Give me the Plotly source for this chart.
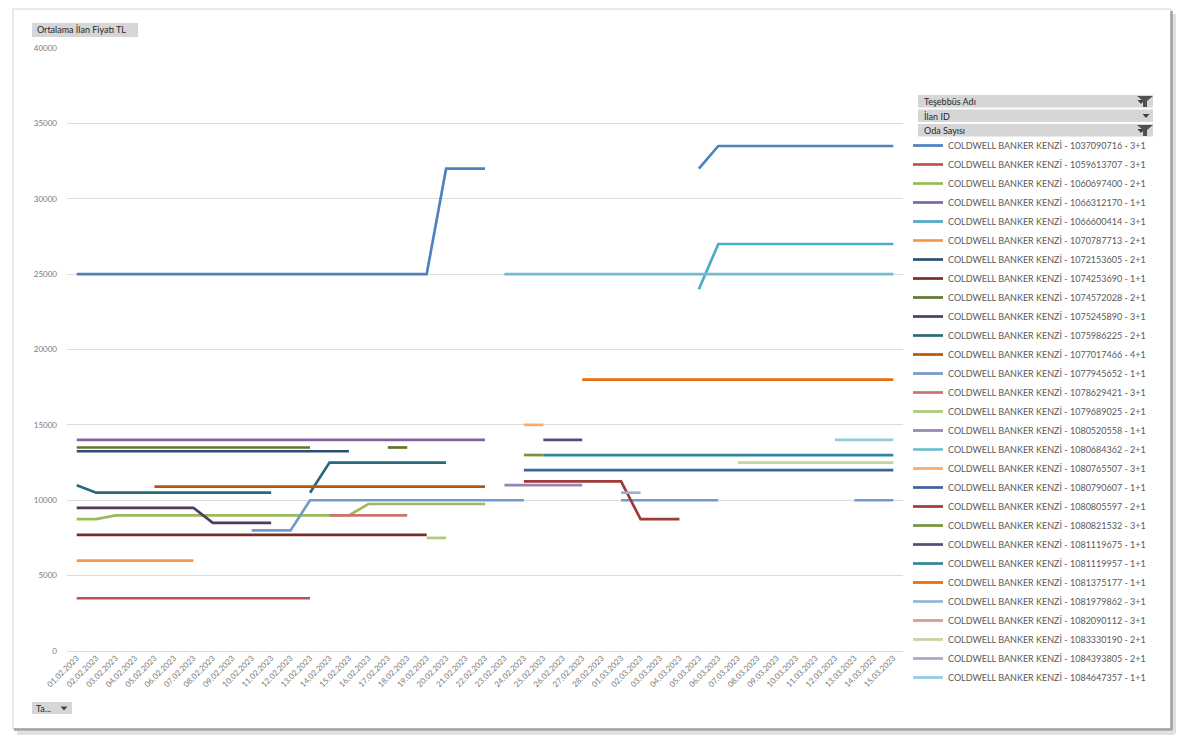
import plotly.graph_objects as go

N = None

dates = [
    "01.02.2023", "02.02.2023", "03.02.2023", "04.02.2023", "05.02.2023", "06.02.2023", "07.02.2023",
    "08.02.2023", "09.02.2023", "10.02.2023", "11.02.2023", "12.02.2023", "13.02.2023", "14.02.2023",
    "15.02.2023", "16.02.2023", "17.02.2023", "18.02.2023", "19.02.2023", "20.02.2023", "21.02.2023",
    "22.02.2023", "23.02.2023", "24.02.2023", "25.02.2023", "26.02.2023", "27.02.2023", "28.02.2023",
    "01.03.2023", "02.03.2023", "03.03.2023", "04.03.2023", "05.03.2023", "06.03.2023", "07.03.2023",
    "08.03.2023", "09.03.2023", "10.03.2023", "11.03.2023", "12.03.2023", "13.03.2023", "14.03.2023",
    "15.03.2023",
]

y_ticks = [0, 5000, 10000, 15000, 20000, 25000, 30000, 35000, 40000]

# one list per listing: 28 February values, then 15 March values
s_1037090716 = [25000, 25000, 25000, 25000, 25000, 25000, 25000, 25000, 25000, 25000, 25000, 25000, 25000, 25000,
                25000, 25000, 25000, 25000, 25000, 32000, 32000, 32000, N, N, N, N, N, N,
                N, N, N, N, 32000, 33500, 33500, 33500, 33500, 33500, 33500, 33500, 33500, 33500, 33500]
s_1059613707 = [3500, 3500, 3500, 3500, 3500, 3500, 3500, 3500, 3500, 3500, 3500, 3500, 3500, N,
                N, N, N, N, N, N, N, N, N, N, N, N, N, N,
                N, N, N, N, N, N, N, N, N, N, N, N, N, N, N]
s_1060697400 = [8750, 8750, 9000, 9000, 9000, 9000, 9000, 9000, 9000, 9000, 9000, 9000, 9000, 9000,
                9000, 9750, 9750, 9750, 9750, 9750, 9750, 9750, N, N, N, N, N, N,
                N, N, N, N, N, N, N, N, N, N, N, N, N, N, N]
s_1066312170 = [14000, 14000, 14000, 14000, 14000, 14000, 14000, 14000, 14000, 14000, 14000, 14000, 14000, 14000,
                14000, 14000, 14000, 14000, 14000, 14000, 14000, 14000, N, N, N, N, N, N,
                N, N, N, N, N, N, N, N, N, N, N, N, N, N, N]
s_1066600414 = [N, N, N, N, N, N, N, N, N, N, N, N, N, N,
                N, N, N, N, N, N, N, N, N, N, N, N, N, N,
                N, N, N, N, 24000, 27000, 27000, 27000, 27000, 27000, 27000, 27000, 27000, 27000, 27000]
s_1070787713 = [6000, 6000, 6000, 6000, 6000, 6000, 6000, N, N, N, N, N, N, N,
                N, N, N, N, N, N, N, N, N, N, N, N, N, N,
                N, N, N, N, N, N, N, N, N, N, N, N, N, N, N]
s_1072153605 = [13250, 13250, 13250, 13250, 13250, 13250, 13250, 13250, 13250, 13250, 13250, 13250, 13250, 13250,
                13250, N, N, N, N, N, N, N, N, N, N, N, N, N,
                N, N, N, N, N, N, N, N, N, N, N, N, N, N, N]
s_1074253690 = [7700, 7700, 7700, 7700, 7700, 7700, 7700, 7700, 7700, 7700, 7700, 7700, 7700, 7700,
                7700, 7700, 7700, 7700, 7700, N, N, N, N, N, N, N, N, N,
                N, N, N, N, N, N, N, N, N, N, N, N, N, N, N]
s_1074572028 = [13500, 13500, 13500, 13500, 13500, 13500, 13500, 13500, 13500, 13500, 13500, 13500, 13500, N,
                N, N, 13500, 13500, N, N, N, N, N, N, N, N, N, N,
                N, N, N, N, N, N, N, N, N, N, N, N, N, N, N]
s_1075245890 = [9500, 9500, 9500, 9500, 9500, 9500, 9500, 8500, 8500, 8500, 8500, N, N, N,
                N, N, N, N, N, N, N, N, N, N, N, N, N, N,
                N, N, N, N, N, N, N, N, N, N, N, N, N, N, N]
s_1075986225 = [11000, 10500, 10500, 10500, 10500, 10500, 10500, 10500, 10500, 10500, 10500, N, 10500, 12500,
                12500, 12500, 12500, 12500, 12500, 12500, N, N, N, N, N, N, N, N,
                N, N, N, N, N, N, N, N, N, N, N, N, N, N, N]
s_1077017466 = [N, N, N, N, 10900, 10900, 10900, 10900, 10900, 10900, 10900, 10900, 10900, 10900,
                10900, 10900, 10900, 10900, 10900, 10900, 10900, 10900, N, N, N, N, N, N,
                N, N, N, N, N, N, N, N, N, N, N, N, N, N, N]
s_1077945652 = [N, N, N, N, N, N, N, N, N, 8000, 8000, 8000, 10000, 10000,
                10000, 10000, 10000, 10000, 10000, 10000, 10000, 10000, 10000, 10000, N, N, N, N,
                10000, 10000, 10000, 10000, 10000, 10000, N, N, N, N, N, N, 10000, 10000, 10000]
s_1078629421 = [N, N, N, N, N, N, N, N, N, N, N, N, N, 9000,
                9000, 9000, 9000, 9000, N, N, N, N, N, N, N, N, N, N,
                N, N, N, N, N, N, N, N, N, N, N, N, N, N, N]
s_1079689025 = [N, N, N, N, N, N, N, N, N, N, N, N, N, N,
                N, N, N, N, 7500, 7500, N, N, N, N, N, N, N, N,
                N, N, N, N, N, N, N, N, N, N, N, N, N, N, N]
s_1080520558 = [N, N, N, N, N, N, N, N, N, N, N, N, N, N,
                N, N, N, N, N, N, N, N, 11000, 11000, 11000, 11000, 11000, N,
                N, N, N, N, N, N, N, N, N, N, N, N, N, N, N]
s_1080684362 = [N, N, N, N, N, N, N, N, N, N, N, N, N, N,
                N, N, N, N, N, N, N, N, 25000, 25000, 25000, 25000, 25000, 25000,
                25000, 25000, 25000, 25000, 25000, 25000, 25000, 25000, 25000, 25000, 25000, 25000, 25000, 25000, 25000]
s_1080765507 = [N, N, N, N, N, N, N, N, N, N, N, N, N, N,
                N, N, N, N, N, N, N, N, N, 15000, 15000, N, N, N,
                N, N, N, N, N, N, N, N, N, N, N, N, N, N, N]
s_1080790607 = [N, N, N, N, N, N, N, N, N, N, N, N, N, N,
                N, N, N, N, N, N, N, N, N, 12000, 12000, 12000, 12000, 12000,
                12000, 12000, 12000, 12000, 12000, 12000, 12000, 12000, 12000, 12000, 12000, 12000, 12000, 12000, 12000]
s_1080805597 = [N, N, N, N, N, N, N, N, N, N, N, N, N, N,
                N, N, N, N, N, N, N, N, N, 11250, 11250, 11250, 11250, 11250,
                11250, 8750, 8750, 8750, N, N, N, N, N, N, N, N, N, N, N]
s_1080821532 = [N, N, N, N, N, N, N, N, N, N, N, N, N, N,
                N, N, N, N, N, N, N, N, N, 13000, 13000, N, N, N,
                N, N, N, N, N, N, N, N, N, N, N, N, N, N, N]
s_1081119675 = [N, N, N, N, N, N, N, N, N, N, N, N, N, N,
                N, N, N, N, N, N, N, N, N, N, 14000, 14000, 14000, N,
                N, N, N, N, N, N, N, N, N, N, N, N, N, N, N]
s_1081119957 = [N, N, N, N, N, N, N, N, N, N, N, N, N, N,
                N, N, N, N, N, N, N, N, N, N, 13000, 13000, 13000, 13000,
                13000, 13000, 13000, 13000, 13000, 13000, 13000, 13000, 13000, 13000, 13000, 13000, 13000, 13000, 13000]
s_1081375177 = [N, N, N, N, N, N, N, N, N, N, N, N, N, N,
                N, N, N, N, N, N, N, N, N, N, N, N, 18000, 18000,
                18000, 18000, 18000, 18000, 18000, 18000, 18000, 18000, 18000, 18000, 18000, 18000, 18000, 18000, 18000]
s_1081979862 = [N, N, N, N, N, N, N, N, N, N, N, N, N, N,
                N, N, N, N, N, N, N, N, N, N, N, N, N, N,
                10500, 10500, N, N, N, N, N, N, N, N, N, N, N, N, N]
s_1082090112 = [N, N, N, N, N, N, N, N, N, N, N, N, N, N,
                N, N, N, N, N, N, N, N, N, N, N, N, N, N,
                N, N, N, N, N, N, N, N, N, N, N, N, N, N, N]
s_1083330190 = [N, N, N, N, N, N, N, N, N, N, N, N, N, N,
                N, N, N, N, N, N, N, N, N, N, N, N, N, N,
                N, N, N, N, N, N, 12500, 12500, 12500, 12500, 12500, 12500, 12500, 12500, 12500]
s_1084393805 = [N, N, N, N, N, N, N, N, N, N, N, N, N, N,
                N, N, N, N, N, N, N, N, N, N, N, N, N, N,
                N, N, N, N, N, N, N, N, N, N, N, N, N, N, N]
s_1084647357 = [N, N, N, N, N, N, N, N, N, N, N, N, N, N,
                N, N, N, N, N, N, N, N, N, N, N, N, N, N,
                N, N, N, N, N, N, N, N, N, N, N, 14000, 14000, 14000, 14000]

series_names = [
    "COLDWELL BANKER KENZİ - 1037090716 - 3+1",
    "COLDWELL BANKER KENZİ - 1059613707 - 3+1",
    "COLDWELL BANKER KENZİ - 1060697400 - 2+1",
    "COLDWELL BANKER KENZİ - 1066312170 - 1+1",
    "COLDWELL BANKER KENZİ - 1066600414 - 3+1",
    "COLDWELL BANKER KENZİ - 1070787713 - 2+1",
    "COLDWELL BANKER KENZİ - 1072153605 - 2+1",
    "COLDWELL BANKER KENZİ - 1074253690 - 1+1",
    "COLDWELL BANKER KENZİ - 1074572028 - 2+1",
    "COLDWELL BANKER KENZİ - 1075245890 - 3+1",
    "COLDWELL BANKER KENZİ - 1075986225 - 2+1",
    "COLDWELL BANKER KENZİ - 1077017466 - 4+1",
    "COLDWELL BANKER KENZİ - 1077945652 - 1+1",
    "COLDWELL BANKER KENZİ - 1078629421 - 3+1",
    "COLDWELL BANKER KENZİ - 1079689025 - 2+1",
    "COLDWELL BANKER KENZİ - 1080520558 - 1+1",
    "COLDWELL BANKER KENZİ - 1080684362 - 2+1",
    "COLDWELL BANKER KENZİ - 1080765507 - 3+1",
    "COLDWELL BANKER KENZİ - 1080790607 - 1+1",
    "COLDWELL BANKER KENZİ - 1080805597 - 2+1",
    "COLDWELL BANKER KENZİ - 1080821532 - 3+1",
    "COLDWELL BANKER KENZİ - 1081119675 - 1+1",
    "COLDWELL BANKER KENZİ - 1081119957 - 1+1",
    "COLDWELL BANKER KENZİ - 1081375177 - 1+1",
    "COLDWELL BANKER KENZİ - 1081979862 - 3+1",
    "COLDWELL BANKER KENZİ - 1082090112 - 3+1",
    "COLDWELL BANKER KENZİ - 1083330190 - 2+1",
    "COLDWELL BANKER KENZİ - 1084393805 - 2+1",
    "COLDWELL BANKER KENZİ - 1084647357 - 1+1",
]

series_values = [
    s_1037090716, s_1059613707, s_1060697400, s_1066312170, s_1066600414, s_1070787713,
    s_1072153605, s_1074253690, s_1074572028, s_1075245890, s_1075986225, s_1077017466,
    s_1077945652, s_1078629421, s_1079689025, s_1080520558, s_1080684362, s_1080765507,
    s_1080790607, s_1080805597, s_1080821532, s_1081119675, s_1081119957, s_1081375177,
    s_1081979862, s_1082090112, s_1083330190, s_1084393805, s_1084647357,
]

series_colors = [
    "#4F81BD", "#C0504D", "#9BBB59", "#8064A2", "#4BACC6", "#F79646",
    "#2C4D75", "#772C2A", "#5F7530", "#4D3B62", "#276A7C", "#B65708",
    "#729ACA", "#CD7371", "#AFC97A", "#9983B5", "#6FBDD1", "#F9AB6B",
    "#3B64A0", "#9E3B38", "#77933C", "#5C4A7D", "#31859C", "#E46C0A",
    "#95B3D7", "#D99694", "#C3D69B", "#B3A2C7", "#93CDDD",
]

FONT = "Lato, 'Open Sans', sans-serif"
W, H = 1185, 747
ML, MR, MT, MB = 67, 282, 48, 96


def px(x):
    return (x - ML) / (W - ML - MR)


def py(y):
    return (H - MB - y) / (H - MT - MB)


fig = go.Figure()
for name, vals, col in zip(series_names, series_values, series_colors):
    fig.add_trace(go.Scatter(
        x=dates, y=vals, name=name, mode="lines",
        line=dict(color=col, width=2.7), connectgaps=False,
    ))

shapes = []
# chart frame + shadow
shapes.append(dict(type="rect", xref="paper", yref="paper", x0=px(13), x1=px(1171), y0=py(9), y1=py(729),
                   line=dict(color="#D4D4D4", width=1), layer="below"))
shapes.append(dict(type="line", xref="paper", yref="paper", x0=px(1174), x1=px(1174), y0=py(14), y1=py(734),
                   line=dict(color="#E0E0E0", width=4), layer="below"))
shapes.append(dict(type="line", xref="paper", yref="paper", x0=px(17), x1=px(1174), y0=py(733), y1=py(733),
                   line=dict(color="#E0E0E0", width=4), layer="below"))
shapes.append(dict(type="line", xref="paper", yref="paper", x0=px(1171.5), x1=px(1171.5), y0=py(11), y1=py(730),
                   line=dict(color="#A0A0A0", width=2.5), layer="below"))
shapes.append(dict(type="line", xref="paper", yref="paper", x0=px(14), x1=px(1172), y0=py(729.5), y1=py(729.5),
                   line=dict(color="#A0A0A0", width=2.5), layer="below"))

# field buttons
buttons = [(32, 23, 138, 37), (918, 95, 1153, 107.5), (918, 109.5, 1153, 122), (918, 124, 1153, 136.5),
           (32, 702, 72, 714)]
for (x0, y0, x1, y1) in buttons:
    shapes.append(dict(type="rect", xref="paper", yref="paper", x0=px(x0), x1=px(x1), y0=py(y0), y1=py(y1),
                       fillcolor="#D6D6D6", line=dict(width=0), layer="below"))


def tri(cx, cy, w=7, h=4):
    return "M {} {} L {} {} L {} {} Z".format(px(cx - w / 2), py(cy - h / 2), px(cx + w / 2), py(cy - h / 2),
                                              px(cx), py(cy + h / 2))


def funnel(cx, top, bot):
    pts = [(cx - 8, top), (cx + 8, top), (cx + 2, top + 5), (cx + 2, bot), (cx - 2, bot), (cx - 2, top + 5)]
    return "M " + " L ".join("{} {}".format(px(a), py(b)) for a, b in pts) + " Z"


for (cx, cy) in [(1141, 102), (1146, 116), (1141, 131), (64, 708.5)]:
    shapes.append(dict(type="path", xref="paper", yref="paper", path=tri(cx, cy), fillcolor="#404040",
                       line=dict(width=0)))
for (cx, t, b) in [(1145, 96, 107), (1145, 125, 136)]:
    shapes.append(dict(type="path", xref="paper", yref="paper", path=funnel(cx, t, b), fillcolor="#505050",
                       line=dict(width=0)))

annotations = []
for (txt, x, y) in [("Ortalama İlan Fiyatı TL", 35, 30), ("Teşebbüs Adı", 922, 101.5),
                    ("İlan ID", 922, 116), ("Oda Sayısı", 922, 130.5), ("Ta...", 34, 708.5)]:
    annotations.append(dict(text=txt, x=px(x), y=py(y), xref="paper", yref="paper", showarrow=False,
                            xanchor="left", yanchor="middle",
                            font=dict(family=FONT, size=9, color="#262626")))

fig.update_layout(
    width=W, height=H,
    margin=dict(l=ML, r=MR, t=MT, b=MB),
    paper_bgcolor="white", plot_bgcolor="white",
    font=dict(family=FONT, size=8, color="#6B6B6B"),
    showlegend=True,
    legend=dict(x=px(908), y=py(131), xanchor="left", yanchor="top",
                font=dict(family=FONT, size=9, color="#595959"),
                bgcolor="rgba(0,0,0,0)", itemwidth=30, tracegroupgap=0),
    xaxis=dict(type="category", categoryorder="array", categoryarray=dates,
               range=[-0.5, len(dates) - 0.5], tickangle=-45, showgrid=False, zeroline=False,
               showline=False, ticks="", tickfont=dict(family=FONT, size=8, color="#7A7A7A")),
    yaxis=dict(range=[0, 40000], tickvals=y_ticks, tickformat="d", showgrid=True, gridcolor="#DCDCDC",
               gridwidth=1, zeroline=True, zerolinecolor="#DCDCDC", zerolinewidth=1, showline=False,
               ticks="", ticklabelstandoff=9, tickfont=dict(family=FONT, size=8, color="#7A7A7A")),
    shapes=shapes,
    annotations=annotations,
)

fig.write_html("out.html", post_script="document.body.style.margin='0';",
               config={"displayModeBar": False})
